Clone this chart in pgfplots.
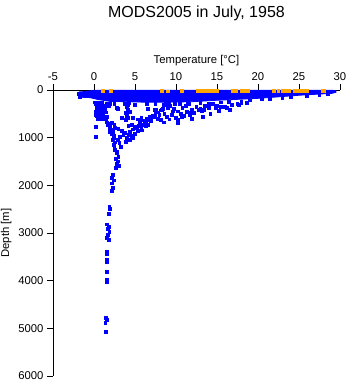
\documentclass[border=0pt]{standalone}
\usepackage{pgfplots}
\pgfplotsset{compat=1.18}
\usepackage{fontspec}
\setmainfont{Liberation Sans}
\definecolor{dotblue}{RGB}{0,0,255}
\definecolor{dotorange}{RGB}{255,165,0}
\begin{document}
\begin{tikzpicture}
\begin{axis}[
  at={(0,0)}, anchor=south west,
  scale only axis, width=287pt, height=286pt,
  xmin=-5, xmax=30, ymin=0, ymax=6000,
  y dir=reverse,
  axis x line*=top, axis y line*=left,
  x axis line style={-}, y axis line style={-},
  axis line style={line width=0.8pt, black},
  tick style={line width=0.8pt, black},
  tick align=outside,
  major tick length=6pt,
  xtick={-5,0,5,10,15,20,25,30},
  xticklabels={-5,0,5,10,15,20,25,30},
  ytick={0,1000,2000,3000,4000,5000,6000},
  yticklabels={0,1000,2000,3000,4000,5000,6000},
  tick label style={font=\fontsize{11.3}{13}\selectfont},
  xlabel={Temperature [°C]},
  ylabel={Depth [m]},
  label style={font=\fontsize{11.3}{13}\selectfont},
  clip=false,
]
% dense near-surface band
\addplot[fill=dotblue, draw=dotblue, line width=0.8pt] coordinates {
(-1.8,40) (-1.0,30) (0,5) (29.0,5) (29.5,15) (29.5,50)
(29,70) (27,90) (25,110) (22,150) (20,175) (17,200) (15,215) (12,245)
(9,255) (6,255) (4,245) (2,240) (0.5,200) (-0.5,160) (-1.8,150)
} -- cycle;
% scattered casts
\addplot[only marks, mark=square*, mark size=1.4pt, mark options={fill=dotblue, draw=dotblue, line width=0pt}] coordinates {
(1,280) (2.5,300) (3.8,290) (5,310) (6.5,290) (7.5,300) (8.5,320) (9.2,290)
(10.5,300) (11.5,280) (13,270) (14,290) (15.5,260) (16.5,250) (18,240) (19,220)
(20.5,200) (21.5,190) (23,170) (24,150) (26,120) (27.5,100) (28.5,85) (-1.9,90) (-1.7,150)
(0.2,300) (0.3,350) (0.5,400) (0.2,450) (0.6,500) (0.4,550) (0.8,320) (1.0,380)
(1.2,420) (1.5,470) (1.1,520) (1.6,560) (0.9,600) (1.3,610) (0.1,260) (0.7,270)
(1.8,330) (1.4,350) (0.25,775) (0.25,985)
(0.4,280) (0.9,300) (0.3,400) (0.7,440) (1.0,470) (0.5,600) (1.2,560) (1.5,620)
(0.2,520) (0.8,560) (1.4,400) (1.6,300) (2.0,290) (1.1,340) (0.6,350)
(2.8,380) (2.9,400)
(3.8,300) (4.0,350) (4.1,420) (3.9,480) (4.0,540) (4.1,590) (3.4,590) (4.8,590)
(4.3,280) (4.2,320) (4.4,460) (3.9,630)
(4.2,760) (4.6,740) (5.0,780) (5.5,750) (6.0,730) (5.8,810) (4.8,830)
(5.6,670) (6.0,640) (6.5,600) (6.8,570) (7.2,540) (7.5,500) (7.8,470) (8.1,430)
(8.4,400) (6.2,660) (7.0,610) (7.4,560) (8.0,520) (6.6,400) (7.4,420)
(5.8,580) (6.4,690) (7.0,650) (6.6,630) (7.8,600) (8.2,630) (7.6,420) (5.4,620)
(1.6,680) (1.8,720) (2.0,760) (1.9,800) (2.1,840) (2.3,880) (2.2,920) (2.4,960)
(2.5,1000) (2.3,1050) (2.6,1100) (2.4,1150) (2.5,1200) (2.6,1250) (2.8,1300)
(2.2,700) (2.5,730) (1.7,740) (2.0,880) (2.6,800)
(3.0,820) (3.4,860) (3.8,900) (4.2,940) (4.6,960) (5.0,920) (4.4,880) (3.6,950)
(3.2,990) (2.9,1050) (4.0,1000) (4.8,1000) (5.4,860) (5.9,850) (3.1,1120) (3.3,1200)
(4.4,1050) (3.9,1090) (5.2,800) (6.3,760) (6.6,740)
(2.6,1260) (2.8,1330) (3.0,1400) (2.7,1450) (2.9,1500) (2.8,1550) (3.1,1600)
(2.7,1640) (2.3,1780) (2.2,1850) (2.4,1900) (2.2,1960) (2.3,2050) (2.2,2120)
(1.9,2450) (2.0,2500) (1.8,2600)
(1.6,2820) (1.8,2870) (1.7,2920) (1.9,2980) (1.7,3040) (1.6,3100) (1.8,3140)
(1.6,3400) (1.6,3450) (1.6,3570) (1.6,3620) (1.6,3815) (1.6,3990) (1.6,4040)
(1.5,4780) (1.6,4830) (1.4,4880) (1.5,5075)
(8.3,420) (8.6,500) (8.9,560) (9.2,620) (8.5,680) (9.6,450) (9.0,380)
(8.8,300) (9.3,340) (9.9,300) (9.5,520) (10.2,620) (10.2,690) (10.7,560)
(9.8,400) (10.2,450) (10.6,500) (11.0,540) (11.5,470) (12.0,420) (10.8,380)
(11.3,460) (10.0,590) (11.7,500) (11.6,300) (12.0,600) (11.2,330)
(12.5,350) (13,400) (13.5,330) (14,380) (14.5,300) (15,340) (15.5,360) (16.2,380)
(13.2,450) (12.2,480) (16.8,320) (17.5,300) (18.7,270) (18,280)
(12.0,460) (12.8,420) (13.4,420) (14.9,380) (16.0,350) (16.6,420) (17.7,320)
(13.3,560) (11.7,520) (14.2,500) (15.2,440)
};
% orange surface points
\addplot[only marks, mark=square*, mark size=1.4pt, mark options={fill=dotorange, draw=dotorange, line width=0pt}] coordinates {
(1.1,25) (2.1,25) (8.3,20) (9.0,30) (10.7,20)
(12.7,25) (13.2,25) (13.7,25) (14.1,25) (14.5,20) (15.0,20)
(17.0,25) (17.3,25) (18.0,25) (18.4,25) (18.8,25)
(22.0,20) (22.5,20) (23.0,20) (23.3,20) (23.8,20)
(24.5,20) (25.0,20) (25.5,20) (26.0,20) (27.9,25) (28.1,25)
};
\end{axis}
\node[font=\fontsize{16}{19}\selectfont] at (143.5pt,363pt) {MODS2005 in July, 1958};
\pgfresetboundingbox
\path[use as bounding box] (-53pt,-8pt) rectangle (295pt,376pt);
\end{tikzpicture}
\end{document}
